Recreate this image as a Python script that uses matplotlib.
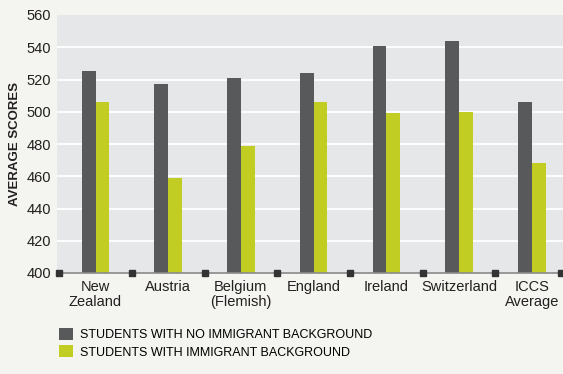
import matplotlib
matplotlib.use("Agg")
import matplotlib.pyplot as plt
import numpy as np
from matplotlib.patches import Patch

categories = ["New\nZealand", "Austria", "Belgium\n(Flemish)", "England", "Ireland", "Switzerland", "ICCS\nAverage"]
no_immigrant = [525, 517, 521, 524, 541, 544, 506]
immigrant = [506, 459, 479, 506, 499, 500, 468]
yticks = [400, 420, 440, 460, 480, 500, 520, 540, 560]
series_names = ["STUDENTS WITH NO IMMIGRANT BACKGROUND", "STUDENTS WITH IMMIGRANT BACKGROUND"]

FONT = ["Liberation Sans", "DejaVu Sans"]
plt.rcParams['font.family'] = FONT

dark = "#58595b"
green = "#c2cd23"
bg = "#f4f5f0"
panel = "#e6e7e9"
txt = "#231f20"

fig = plt.figure(figsize=(5.63, 3.74), dpi=100, facecolor=bg)
ax = fig.add_axes([57/563, (374-273)/374, 1 - 57/563, (273-15)/374])
ax.set_facecolor(panel)

x = np.arange(len(categories))
w = 0.19
ax.bar(x - w/2, np.array(no_immigrant) - 400, w, bottom=400, color=dark, zorder=3)
ax.bar(x + w/2, np.array(immigrant) - 400, w, bottom=400, color=green, zorder=3)

ax.set_ylim(400, 560)
ax.set_xlim(-0.53, 6.43)
ax.set_yticks(yticks)
ax.set_yticklabels([str(v) for v in yticks], fontsize=10.5, color=txt)
for v in yticks[1:-1]:
    ax.axhline(v, color="white", lw=1.3, zorder=1)

ax.set_xticks(x)
ax.set_xticklabels(categories, fontsize=10.5, color=txt, linespacing=1.1)
ax.tick_params(axis="both", length=0)
ax.tick_params(axis="y", pad=4)
ax.tick_params(axis="x", pad=5)

for s in ["top", "right", "left"]:
    ax.spines[s].set_visible(False)
ax.spines["bottom"].set_color("#8a8a8a")
ax.spines["bottom"].set_linewidth(1.2)
ax.spines["bottom"].set_zorder(4)

bounds = list(np.arange(len(categories)) - 0.5) + [6.4]
ax.plot(bounds, [400]*len(bounds), ls="none", marker="s", ms=4, color="#333333",
        clip_on=False, zorder=5)

ax.set_ylabel("AVERAGE SCORES", fontsize=9.5, fontweight="bold", color=txt, labelpad=4)

handles = [Patch(facecolor=dark), Patch(facecolor=green)]
fig.legend(handles, series_names, loc="upper left", bbox_to_anchor=(59/563, 1 - 328/374),
           frameon=False, fontsize=9, handlelength=1.1, handleheight=1.05,
           handletextpad=0.6, labelspacing=0.35, borderaxespad=0, borderpad=0)

fig.savefig("out.png", dpi=100, facecolor=bg)
